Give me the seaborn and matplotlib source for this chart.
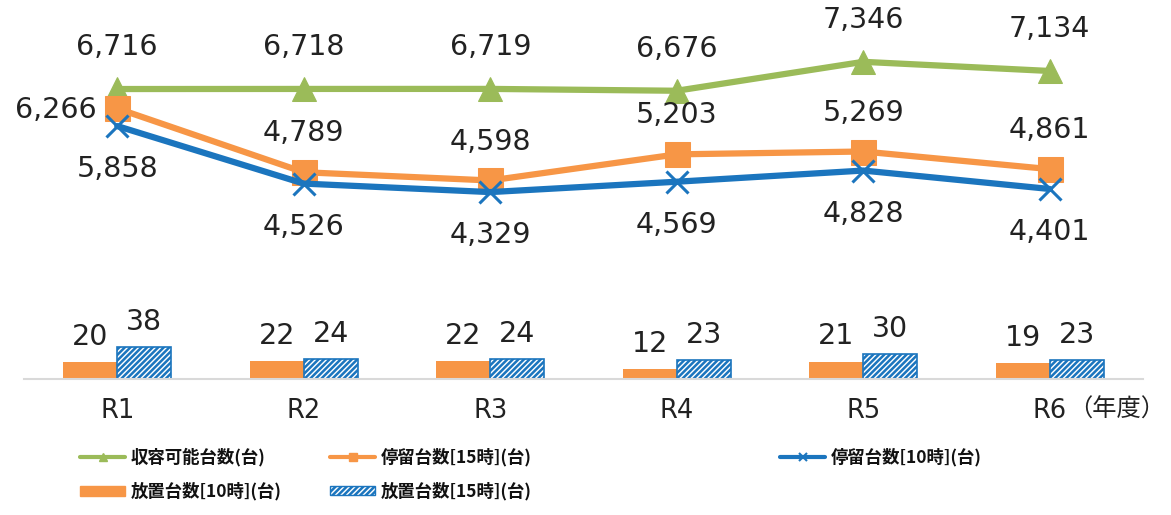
import matplotlib
matplotlib.use("Agg")
import matplotlib.pyplot as plt
import seaborn as sns
import pandas as pd
import numpy as np
from matplotlib.lines import Line2D
from matplotlib.patches import Patch

years = ["R1", "R2", "R3", "R4", "R5", "R6"]
capacity = [6716, 6718, 6719, 6676, 7346, 7134]
stay15 = [6266, 4789, 4598, 5203, 5269, 4861]
stay10 = [5858, 4526, 4329, 4569, 4828, 4401]
aband10 = [20, 22, 22, 12, 21, 19]
aband15 = [38, 24, 24, 23, 30, 23]

lbl_cap = "収容可能台数(台)"
lbl_s15 = "停留台数[15時](台)"
lbl_s10 = "停留台数[10時](台)"
lbl_a10 = "放置台数[10時](台)"
lbl_a15 = "放置台数[15時](台)"

GREEN = "#9BBB59"
ORANGE = "#F79646"
BLUE = "#1B75BE"

sns.set_theme(style="white")
plt.rcParams["font.family"] = ["DejaVu Sans", "Noto Sans CJK JP"]
plt.rcParams["hatch.color"] = BLUE
plt.rcParams["hatch.linewidth"] = 1.8

fig = plt.figure(figsize=(11.71, 5.15), dpi=100)
W, H = 1171, 515
left, right = 24 / W, 1143 / W
bottom = (H - 379) / H
top = (H - 12) / H
ax = fig.add_axes([left, bottom, right - left, top - bottom])

bars = pd.DataFrame({
    "year": years * 2,
    "value": aband10 + aband15,
    "series": [lbl_a10] * len(years) + [lbl_a15] * len(years),
})
sns.barplot(data=bars, x="year", y="value", hue="series",
            palette=[ORANGE, BLUE], width=0.58, ax=ax, legend=False,
            saturation=1, order=years, hue_order=[lbl_a10, lbl_a15])
fs = 20.5
tc = "#222222"
for i, cont in enumerate(ax.containers):
    for p in cont:
        if i == 1:
            p.set_facecolor("white")
            p.set_edgecolor(BLUE)
            p.set_hatch("//////")
            p.set_linewidth(1.2)
        else:
            p.set_edgecolor(ORANGE)
            p.set_linewidth(0)
    ax.bar_label(cont, labels=[str(v) for v in (aband10 if i == 0 else aband15)],
                 padding=8, fontsize=fs, color=tc)
ax.set_ylim(0, 442)
ax.set_xlim(-0.5, len(years) - 0.5)

ax2 = ax.twinx()
sns.lineplot(x=years, y=capacity, sort=False, color=GREEN, linewidth=4.5,
             marker="^", markersize=17, markeredgecolor=GREEN, ax=ax2, zorder=3)
sns.lineplot(x=years, y=stay15, sort=False, color=ORANGE, linewidth=4.5,
             marker="s", markersize=18, markeredgecolor=ORANGE, ax=ax2, zorder=4)
sns.lineplot(x=years, y=stay10, sort=False, color=BLUE, linewidth=4.5,
             marker="x", markersize=16, markeredgewidth=2.2, markeredgecolor=BLUE,
             ax=ax2, zorder=5)
ax2.set_ylim(0, 8500)
ax2.set_xlim(-0.5, len(years) - 0.5)

for i, y in enumerate(years):
    ax2.annotate(f"{capacity[i]:,}", (y, capacity[i]), xytext=(0, 30),
                 textcoords="offset points", ha="center", va="center",
                 fontsize=fs, color=tc, zorder=10)
    if i == 0:
        ax2.annotate(f"{stay15[i]:,}", (y, stay15[i]), xytext=(-15, -1),
                     textcoords="offset points", ha="right", va="center",
                     fontsize=fs, color=tc, zorder=10)
    else:
        ax2.annotate(f"{stay15[i]:,}", (y, stay15[i]), xytext=(0, 28),
                     textcoords="offset points", ha="center", va="center",
                     fontsize=fs, color=tc, zorder=10)
    ax2.annotate(f"{stay10[i]:,}", (y, stay10[i]), xytext=(0, -31),
                 textcoords="offset points", ha="center", va="center",
                 fontsize=fs, color=tc, zorder=10,
                 bbox=dict(boxstyle="square,pad=0.1", fc="white", ec="none", alpha=0.8))

for a in (ax, ax2):
    for s in ["top", "right", "left"]:
        a.spines[s].set_visible(False)
    a.set_yticks([])
    a.set_ylabel("")
    a.set_xlabel("")
ax2.spines["bottom"].set_visible(False)
ax.spines["bottom"].set_color("#D9D9D9")
ax.spines["bottom"].set_linewidth(1.5)
ax.tick_params(axis="x", length=0, pad=14, labelsize=18.5, labelcolor=tc)
ax2.tick_params(axis="x", length=0, labelbottom=False)
ax.set_xticks(range(len(years)))
ax.set_xticklabels(years)
ax.text(len(years) - 1 + 0.1, -0.083, "（年度）", transform=ax.get_xaxis_transform(),
        ha="left", va="center", fontsize=17.5, color=tc,
        family=["Noto Sans CJK JP", "DejaVu Sans"])

lfont = {"family": ["Noto Sans CJK JP", "DejaVu Sans"], "size": 12.5, "weight": "bold"}
h_cap = Line2D([], [], color=GREEN, lw=3, marker="^", markersize=6)
h_s15 = Line2D([], [], color=ORANGE, lw=3, marker="s", markersize=6)
h_s10 = Line2D([], [], color=BLUE, lw=3, marker="x", markersize=6, markeredgewidth=1.5)
h_a10 = Patch(facecolor=ORANGE, edgecolor=ORANGE)
h_a15 = Patch(facecolor="white", edgecolor=BLUE, hatch="//////")

cols = [([h_cap, h_a10], [lbl_cap, lbl_a10], 80),
        ([h_s15, h_a15], [lbl_s15, lbl_a15], 330),
        ([h_s10], [lbl_s10], 780)]
for hs, ls, xpx in cols:
    leg = fig.legend(hs, ls, loc="upper left", bbox_to_anchor=(xpx / W, 1 - 448 / H),
                     frameon=False, prop=lfont, handlelength=2.6, handletextpad=0.3,
                     labelspacing=0.9, borderaxespad=0, borderpad=0, handleheight=0.5)
    for t in leg.get_texts():
        t.set_color("#111111")

fig.savefig("out.png", dpi=100)
